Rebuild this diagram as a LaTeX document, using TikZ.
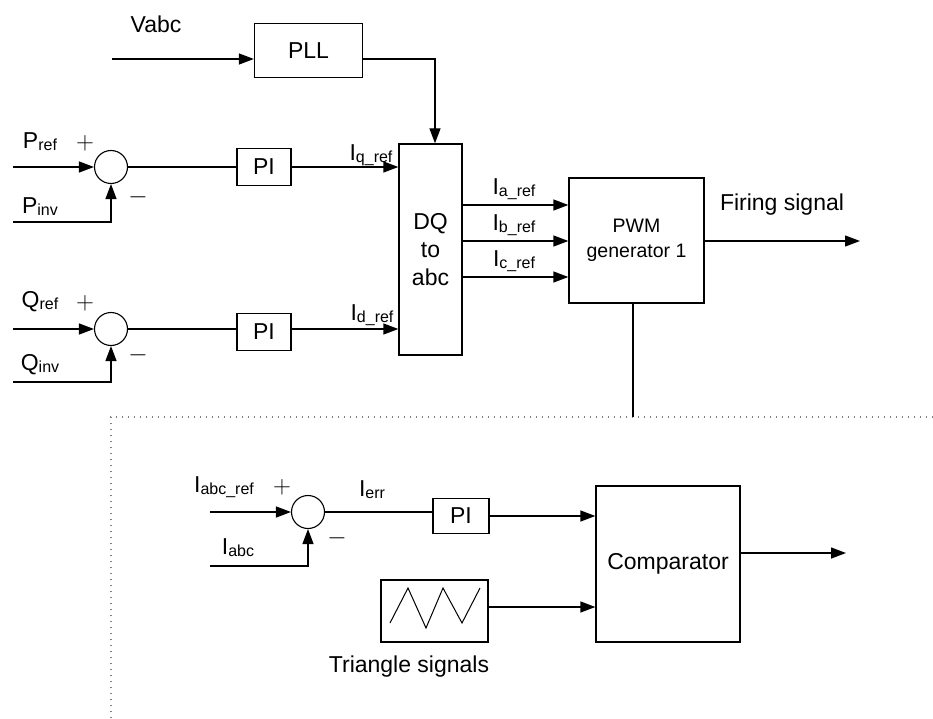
\documentclass[tikz,border=0pt]{standalone}
\usepackage{fontspec}
\setmainfont{Liberation Sans}
\usetikzlibrary{arrows.meta}
\newcommand{\lowtxt}[1]{\raisebox{-2pt}{\fontsize{16}{16}\selectfont #1}}
\tikzset{
  sig/.style={-{Triangle[length=15pt,width=11pt]}},
  blk/.style={draw, inner sep=0pt, align=center},
  sumpt/.style={draw, circle, minimum size=33pt, inner sep=0pt, line width=1.1pt},
  sgn/.style={font=\fontsize{26}{26}\selectfont},
  sepline/.style={gray, line width=1.3pt, dash pattern=on 1.3pt off 4.7pt}
}
\begin{document}
\begin{tikzpicture}[x=1pt, y=-1pt, line width=1.3pt, font=\fontsize{23}{28}\selectfont]
  \useasboundingbox (0,0) rectangle (933,719);
  % PLL and DQ to abc
  \coordinate (vin) at (112,59);
  \node at (156,24) {Vabc};
  \node[blk, minimum width=108pt, minimum height=54pt] (pll) at (308.5,50.5) {PLL};
  \node[blk, minimum width=63pt, minimum height=211pt] (dq) at (430.5,249.5) {DQ\\to\\abc};
  \draw[sig] (vin) -- (vin -| pll.west);
  \draw[sig] (pll.east |- vin) -| ([xshift=4.5pt]dq.north);
  % P loop
  \coordinate (pin) at (13,167);
  \coordinate (pinv) at (13,222);
  \node[sumpt] (sum1) at (111,167) {};
  \node[blk, minimum width=54pt, minimum height=37pt] (pi1) at (264,167) {PI};
  \node at (40,142) {P\lowtxt{ref}};
  \node at (40,207) {P\lowtxt{inv}};
  \node[sgn] (plus1) at (85,143) {$+$};
  \node[sgn] (minus1) at (138,197) {$-$};
  \draw[sig] (pin) -- (sum1);
  \draw[sig] (pinv) -| (sum1);
  \draw (sum1) -- (sum1 -| pi1.west);
  \draw[sig] (pi1) -- (pi1 -| dq.west);
  \node at (371,155) {I\lowtxt{q\_ref}};
  % Q loop
  \coordinate (qin) at (13,329);
  \coordinate (qinv) at (13,382);
  \node[sumpt] (sum2) at (111,329) {};
  \node[blk, minimum width=54pt, minimum height=37pt] (pi2) at (264,332) {PI};
  \node at (40,302) {Q\lowtxt{ref}};
  \node at (40,365) {Q\lowtxt{inv}};
  \node[sgn] (plus2) at (85,303) {$+$};
  \node[sgn] (minus2) at (138,355) {$-$};
  \draw[sig] (qin) -- (sum2);
  \draw[sig] (qinv) -| (sum2);
  \draw (sum2) -- (sum2 -| pi2.west);
  \draw[sig] (pi2.east |- sum2) -- (sum2 -| dq.west);
  \node at (372,315) {I\lowtxt{d\_ref}};
  % PWM generator
  \node[blk, minimum width=135pt, minimum height=125pt, font=\fontsize{19.5}{25}\selectfont] (pwm) at (636.5,240.5) {PWM\\generator 1};
  \foreach \y/\k in {205/a,241/b,277/c} {
    \draw[sig] (dq.east |- 0,\y) -- (pwm.west |- 0,\y);
    \node at (514,\y-16) {I\lowtxt{\k\_ref}};
  }
  \coordinate (fire) at (860,241);
  \draw[sig] (pwm.east |- fire) -- (fire);
  \node at (782,205) {Firing signal};
  % separation
  \coordinate (sep) at (111,417);
  \draw[sepline] (933,417) -- (sep) -- (111,719);
  \draw ([xshift=-3.5pt]pwm.south) -- ([xshift=-3.5pt]pwm.south |- sep);
  % current loop and comparator
  \coordinate (iin) at (210,512);
  \coordinate (iabc) at (210,566);
  \node[sumpt] (sum3) at (308,512) {};
  \node[blk, minimum width=56pt, minimum height=35pt] (pi3) at (461,516) {PI};
  \node[blk, minimum width=144pt, minimum height=156pt] (comp) at (668,564) {Comparator};
  \node[blk, minimum width=107pt, minimum height=62pt] (tri) at (434.5,611) {};
  \draw[line width=1pt] (390,623) -- (408,588) -- (426,628) -- (443,588) -- (462,623) -- (480,588);
  \node at (409,667) {Triangle signals};
  \node at (224,487) {I\lowtxt{abc\_ref}};
  \node at (238,548) {I\lowtxt{abc}};
  \node at (372,490) {I\lowtxt{err}};
  \node[sgn] (plus3) at (282,487) {$+$};
  \node[sgn] (minus3) at (337,538) {$-$};
  \draw[sig] (iin) -- (sum3);
  \draw[sig] (iabc) -| (sum3);
  \draw (sum3) -- (sum3 -| pi3.west);
  \draw[sig] (pi3) -- (pi3 -| comp.west);
  \draw[sig] (tri.east |- 0,607) -- (comp.west |- 0,607);
  \coordinate (cout) at (846,553);
  \draw[sig] (comp.east |- cout) -- (cout);
\end{tikzpicture}
\end{document}
